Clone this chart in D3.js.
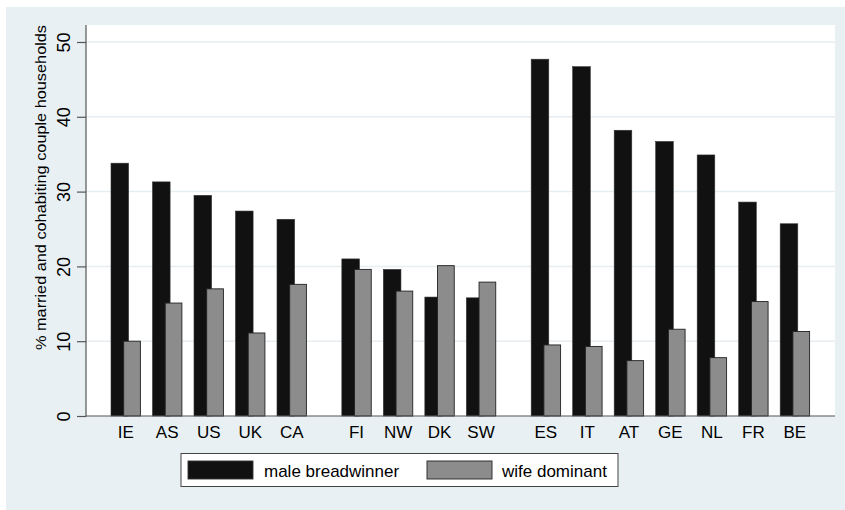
<!DOCTYPE html>
<html><head><meta charset="utf-8">
<script src="https://cdn.jsdelivr.net/npm/d3@7"></script>
<style>
html,body{margin:0;padding:0;background:#fff;}
svg{display:block;font-family:"Liberation Sans",Arial,sans-serif;}
</style></head>
<body><svg id="c" width="845" height="510"></svg>
<script>
const categories = ["IE","AS","US","UK","CA","FI","NW","DK","SW","ES","IT","AT","GE","NL","FR","BE"];
const groups = [0,0,0,0,0,1,1,1,1,2,2,2,2,2,2,2];
const maleBreadwinner = [33.8,31.3,29.5,27.4,26.3,21.0,19.6,15.9,15.8,47.7,46.7,38.2,36.7,34.9,28.6,25.7];
const wifeDominant   = [10.0,15.1,17.0,11.1,17.6,19.6,16.7,20.1,17.9,9.5,9.3,7.4,11.6,7.8,15.3,11.3];
const yTicks = [0,10,20,30,40,50];
const seriesNames = ["male breadwinner","wife dominant"];
const seriesColors = ["#111111","#8c8c8c"];
const yTitle = "% married and cohabiting couple households";

const svg = d3.select("#c");
const bg = "#e8f0f3";
svg.append("rect").attr("x",6).attr("y",7).attr("width",839).attr("height",503).attr("fill",bg);

const plot = {l:86, r:835, t:25, b:416};
svg.append("rect").attr("x",plot.l).attr("y",plot.t).attr("width",plot.r-plot.l).attr("height",plot.b-plot.t).attr("fill","#fff");

const y = d3.scaleLinear().domain([0,50]).range([416,42]);
const pos = categories.map((c,i)=> i + groups[i]*0.5625);
const x = d3.scaleLinear().domain([0,1]).range([111,152.5]);

// gridlines
svg.append("g").selectAll("line").data(yTicks.filter(d=>d>0)).join("line")
  .attr("x1",plot.l).attr("x2",plot.r).attr("y1",d=>y(d)).attr("y2",d=>y(d))
  .attr("stroke","#e6eef1").attr("stroke-width",1.5);

const bw = 17.6, gw = 16.7, goff = 12.7;
// male bars
svg.append("g").selectAll("rect").data(maleBreadwinner).join("rect")
  .attr("x",(d,i)=>x(pos[i])).attr("width",bw)
  .attr("y",d=>y(d)).attr("height",d=>y(0)-y(d))
  .attr("fill",seriesColors[0]).attr("stroke","#333").attr("stroke-width",0.6);
// wife bars
svg.append("g").selectAll("rect").data(wifeDominant).join("rect")
  .attr("x",(d,i)=>x(pos[i])+goff).attr("width",gw)
  .attr("y",d=>y(d)).attr("height",d=>y(0)-y(d))
  .attr("fill",seriesColors[1]).attr("stroke","#222").attr("stroke-width",0.9);

// axes lines
svg.append("line").attr("x1",plot.l).attr("x2",plot.l).attr("y1",plot.t).attr("y2",plot.b+0.5).attr("stroke","#555").attr("stroke-width",1.2);
svg.append("line").attr("x1",plot.l).attr("x2",plot.r).attr("y1",plot.b).attr("y2",plot.b).attr("stroke","#555").attr("stroke-width",1.2);

// y axis ticks
const ya = svg.append("g").attr("transform",`translate(${plot.l},0)`)
  .call(d3.axisLeft(y).tickValues(yTicks).tickSize(9).tickFormat(d3.format("d")));
ya.select(".domain").remove();
ya.selectAll(".tick line").attr("stroke","#555").attr("stroke-width",1.2);
ya.selectAll(".tick text")
  .attr("transform","rotate(-90)").attr("x",0).attr("y",-16.5).attr("dy",null)
  .attr("text-anchor","middle").attr("font-size",18).attr("fill","#000")
  .style("font-family","Liberation Sans, Arial, sans-serif");

// x labels
svg.append("g").selectAll("text").data(categories).join("text")
  .attr("x",(d,i)=>x(pos[i])+14.7).attr("y",438)
  .attr("text-anchor","middle").attr("font-size",17).attr("fill","#000").text(d=>d);

// y title
svg.append("text").attr("transform","translate(46,187.5) rotate(-90)")
  .attr("text-anchor","middle").attr("font-size",14).attr("fill","#000")
  .attr("textLength",325).attr("lengthAdjust","spacingAndGlyphs").text(yTitle);

// legend
const lg = svg.append("g");
lg.append("rect").attr("x",181).attr("y",453.5).attr("width",437).attr("height",33)
  .attr("fill","#fff").attr("stroke","#444").attr("stroke-width",1);
const lx = [188,427], tx=[264,502];
seriesNames.forEach((n,i)=>{
  lg.append("rect").attr("x",lx[i]).attr("y",461).attr("width",65).attr("height",18)
    .attr("fill",seriesColors[i]).attr("stroke",i? "#222":"#333").attr("stroke-width",0.9);
  lg.append("text").attr("x",tx[i]).attr("y",477).attr("font-size",17).attr("fill","#000").text(n);
});
</script></body></html>
